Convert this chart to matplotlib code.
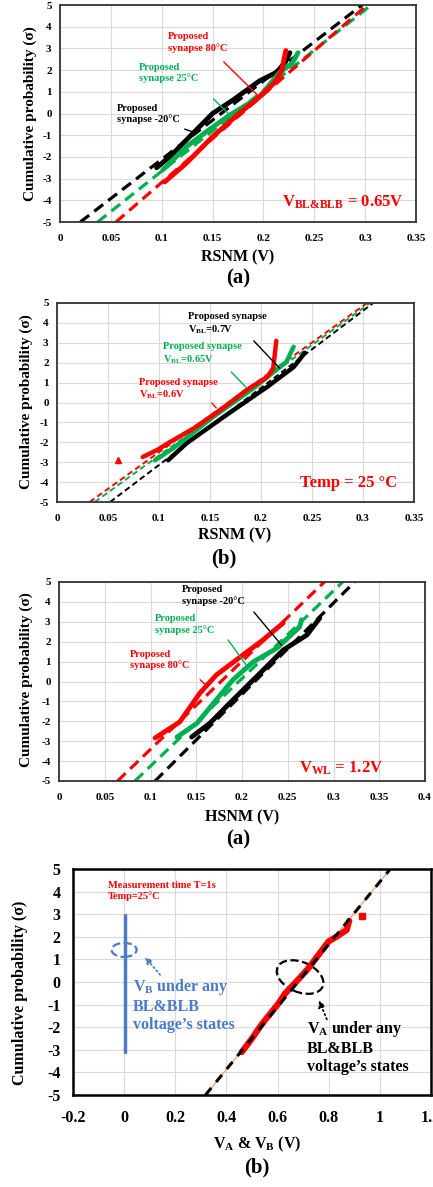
import numpy as np
import matplotlib
matplotlib.use("Agg")
import matplotlib.pyplot as plt
import matplotlib.transforms as mtrans
from matplotlib.patches import Ellipse
from matplotlib.mathtext import MathTextParser

plt.rcParams['font.family'] = ['Liberation Serif', 'DejaVu Serif']
plt.rcParams['font.weight'] = 'bold'
plt.rcParams['mathtext.fontset'] = 'custom'
plt.rcParams['mathtext.rm'] = 'Liberation Serif:bold'
plt.rcParams['mathtext.it'] = 'Liberation Serif:bold'
plt.rcParams['mathtext.bf'] = 'Liberation Serif:bold'
plt.rcParams['axes.unicode_minus'] = False

RED = '#ff0000'
GREEN = '#00b050'
BLACK = '#000000'
BLUE = '#4a7cc7'
PEACH = '#f4b183'

# ---- panel 1: RSNM vs temperature (V_BL&BLB = 0.65V) ----
rsnmT_black_x = [0.095, 0.11, 0.131, 0.15, 0.17, 0.196, 0.213, 0.222, 0.226]
rsnmT_black_y = [-2.5, -1.9, -0.9, 0.0, 0.62, 1.5, 1.9, 2.4, 2.8]
rsnmT_green_x = [0.101, 0.124, 0.145, 0.167, 0.196, 0.216, 0.228, 0.234]
rsnmT_green_y = [-2.6, -1.54, -0.8, -0.07, 0.76, 1.9, 2.3, 2.8]
rsnmT_red_x = [0.103, 0.124, 0.15, 0.176, 0.196, 0.212, 0.218, 0.222]
rsnmT_red_y = [-3.15, -2.3, -1.07, 0.0, 0.76, 1.47, 2.0, 2.9]
rsnmT_fit_x = {'black': [0.02, 0.297], 'green': [0.037, 0.306], 'red': [0.055, 0.302]}
fit_y = [-5, 5]

# ---- panel 2: RSNM vs V_BL (Temp = 25C) ----
rsnmV_red_x = [0.084, 0.098, 0.111, 0.134, 0.16, 0.186, 0.206, 0.212, 0.215]
rsnmV_red_y = [-2.74, -2.39, -1.98, -1.3, -0.38, 0.63, 1.28, 1.73, 3.1]
rsnmV_red_outlier = (0.06, -2.9)
rsnmV_green_x = [0.096, 0.114, 0.153, 0.193, 0.225, 0.232]
rsnmV_green_y = [-2.9, -2.3, -0.73, 0.73, 2.05, 2.8]
rsnmV_black_x = [0.109, 0.127, 0.166, 0.206, 0.232, 0.243]
rsnmV_black_y = [-2.9, -2.05, -0.63, 0.78, 1.78, 2.5]
rsnmV_fit_x = {'red': [0.032, 0.304], 'green': [0.037, 0.307], 'black': [0.052, 0.31]}

# ---- panel 3: HSNM vs temperature (V_WL = 1.2V) ----
hsnm_red_x = [0.105, 0.132, 0.154, 0.172, 0.198, 0.223, 0.245]
hsnm_red_y = [-2.84, -2.03, -0.58, 0.33, 1.23, 2.09, 2.94]
hsnm_green_x = [0.129, 0.151, 0.169, 0.19, 0.212, 0.238, 0.263, 0.265]
hsnm_green_y = [-2.79, -2.09, -1.08, 0.08, 0.98, 1.67, 2.74, 3.1]
hsnm_black_x = [0.145, 0.165, 0.19, 0.22, 0.245, 0.271, 0.285]
hsnm_black_y = [-2.79, -2.09, -0.93, 0.43, 1.58, 2.34, 3.19]
hsnm_fit_x = {'red': [0.064, 0.29], 'green': [0.083, 0.31], 'black': [0.105, 0.323]}

# ---- panel 4: V_A & V_B ----
va_x = [0.46, 0.5, 0.53, 0.55, 0.6, 0.63, 0.68, 0.72, 0.76, 0.8, 0.83, 0.87, 0.88]
va_y = [-3.1, -2.5, -2.0, -1.7, -1.0, -0.5, 0.1, 0.6, 1.2, 1.8, 2.0, 2.3, 2.7]
va_outlier = (0.93, 2.9)
va_fit_x = [0.318, 1.041]
vb_x = [0.003, 0.003]
vb_y = [-3.1, 2.95]

W, H = 433, 1187
fig = plt.figure(figsize=(W / 100, H / 100), dpi=100)


def mathOk(s):
    try:
        MathTextParser('agg').parse(s, 100)
        return True
    except Exception:
        return False


blbLabel = r'$V_{BL&BLB}$ = 0.65V'
if not mathOk(r'$V_{BL&BLB}$'):
    blbLabel = r'$V_{BL}$' + '&' + r'$_{BLB}$ = 0.65V'


def axRect(left, top, right, bottom):
    return [left / W, 1 - bottom / H, (right - left) / W, (bottom - top) / H]


def setupAxes(ax, xmin, xmax, xstep, tickSize, xpad, ypad):
    ax.set_xlim(xmin, xmax)
    ax.set_ylim(-5, 5)
    xt = np.arange(xmin, xmax + xstep / 2, xstep)
    ax.set_xticks(xt)
    ax.set_xticklabels(['{:g}'.format(round(v, 2)) for v in xt])
    ax.set_yticks(range(-5, 6))
    ax.tick_params(axis='x', labelsize=tickSize, length=0, pad=xpad)
    ax.tick_params(axis='y', labelsize=tickSize, length=0, pad=ypad)
    for lab in ax.get_xticklabels() + ax.get_yticklabels():
        lab.set_fontweight('bold')
    ax.grid(True, color='#d9d9d9', lw=0.8)
    ax.set_axisbelow(True)
    for s in ax.spines.values():
        s.set_linewidth(1.3)
        s.set_color('#333333')


def note(ax, txt, xy, color, size):
    ax.text(xy[0], xy[1], txt, color=color, fontsize=size, fontweight='bold',
            ha='left', va='top', linespacing=1.25)


def pointer(ax, p0, p1, color, lw=1.0):
    ax.annotate('', xy=p1, xytext=p0,
                arrowprops=dict(arrowstyle='-', color=color, lw=lw))


def band(ax, x, y, color, lw=3.5):
    ax.plot(x, y, color=color, lw=lw, solid_capstyle='round', solid_joinstyle='round')


# ---------------- panel 1 ----------------
ax1 = fig.add_axes(axRect(60, 5, 416, 222))
setupAxes(ax1, 0, 0.35, 0.05, 8, 8.5, 6)
for c, col in [('black', BLACK), ('green', GREEN), ('red', RED)]:
    ax1.plot(rsnmT_fit_x[c], fit_y, color=col, lw=2.3, dashes=(3.5, 2))
band(ax1, rsnmT_black_x, rsnmT_black_y, BLACK)
band(ax1, rsnmT_green_x, rsnmT_green_y, GREEN)
band(ax1, rsnmT_red_x, rsnmT_red_y, RED)
note(ax1, 'Proposed\nsynapse 80°C', (0.106, 3.75), RED, 7.5)
pointer(ax1, (0.159, 2.47), (0.196, 0.76), RED)
note(ax1, 'Proposed\nsynapse 25°C', (0.078, 2.35), GREEN, 7.5)
pointer(ax1, (0.149, 0.76), (0.167, -0.07), GREEN)
note(ax1, 'Proposed\nsynapse -20°C', (0.056, 0.45), BLACK, 7.5)
pointer(ax1, (0.12, -0.68), (0.134, -0.9), BLACK)
ax1.text(0.338, -4.1, blbLabel, color=RED, fontsize=12,
         fontweight='bold', ha='right', va='center')

# ---------------- panel 2 ----------------
ax2 = fig.add_axes(axRect(57, 303, 414, 502))
setupAxes(ax2, 0, 0.35, 0.05, 8, 9, 6)
for c, col in [('red', RED), ('green', GREEN), ('black', BLACK)]:
    ax2.plot(rsnmV_fit_x[c], fit_y, color=col, lw=1.4, dashes=(3, 1.8))
band(ax2, rsnmV_black_x, rsnmV_black_y, BLACK, 3.2)
band(ax2, rsnmV_green_x, rsnmV_green_y, GREEN, 3.2)
band(ax2, rsnmV_red_x, rsnmV_red_y, RED, 3.2)
ax2.plot(*rsnmV_red_outlier, marker='^', color=RED, ms=4)
note(ax2, 'Proposed synapse\n$V_{BL}$=0.7V', (0.128, 4.55), BLACK, 7.5)
pointer(ax2, (0.191, 3.2), (0.22, 1.63), BLACK)
note(ax2, 'Proposed synapse\n$V_{BL}$=0.65V', (0.104, 3.05), GREEN, 7.5)
pointer(ax2, (0.169, 1.63), (0.187, 0.68), GREEN)
note(ax2, 'Proposed synapse\n$V_{BL}$=0.6V', (0.08, 1.25), RED, 7.5)
pointer(ax2, (0.15, 0.08), (0.158, -0.38), RED)
ax2.text(0.333, -4.05, 'Temp = 25 °C', color=RED, fontsize=12,
         fontweight='bold', ha='right', va='center')

# ---------------- panel 3 ----------------
ax3 = fig.add_axes(axRect(59, 582, 425, 781))
setupAxes(ax3, 0, 0.4, 0.05, 8, 9, 6)
for c, col in [('red', RED), ('green', GREEN), ('black', BLACK)]:
    ax3.plot(hsnm_fit_x[c], fit_y, color=col, lw=2.3, dashes=(3.5, 2))
band(ax3, hsnm_black_x, hsnm_black_y, BLACK)
band(ax3, hsnm_green_x, hsnm_green_y, GREEN)
band(ax3, hsnm_red_x, hsnm_red_y, RED)
note(ax3, 'Proposed\nsynapse -20°C', (0.134, 4.85), BLACK, 7.5)
pointer(ax3, (0.211, 3.6), (0.245, 1.73), BLACK)
note(ax3, 'Proposed\nsynapse 25°C', (0.105, 3.4), GREEN, 7.5)
pointer(ax3, (0.183, 2.2), (0.207, 0.68), GREEN)
note(ax3, 'Proposed\nsynapse 80°C', (0.078, 1.6), RED, 7.5)
pointer(ax3, (0.152, 0.18), (0.163, -0.28), RED)
ax3.text(0.354, -4.35, r'$V_{WL}$ = 1.2V', color=RED, fontsize=12,
         fontweight='bold', ha='right', va='center')

# ---------------- panel 4 ----------------
ax4 = fig.add_axes(axRect(73, 869, 431, 1095))
setupAxes(ax4, -0.2, 1.2, 0.2, 11.5, 11, 9)
for s in ax4.spines.values():
    s.set_linewidth(1.8)
    s.set_color('black')
ax4.plot(va_fit_x, fit_y, color=PEACH, lw=1.2)
band(ax4, va_x, va_y, RED, 4.5)
ax4.plot(*va_outlier, marker='s', color=RED, ms=4)
ax4.plot(va_fit_x, fit_y, color=BLACK, lw=2.2, dashes=(3, 2.5))
band(ax4, vb_x, vb_y, BLUE, 2.5)
# ellipses drawn in inch units around a data-space centre
ax4.add_patch(Ellipse((0, 0), 0.25, 0.14, fill=False, ec=BLUE, lw=1.6, ls='--',
                      transform=fig.dpi_scale_trans
                      + mtrans.ScaledTranslation(0.0, 1.42, ax4.transData)))
ax4.add_patch(Ellipse((0, 0), 0.49, 0.30, angle=-23, fill=False, ec=BLACK, lw=1.6,
                      ls='--', transform=fig.dpi_scale_trans
                      + mtrans.ScaledTranslation(0.688, 0.22, ax4.transData)))
ax4.annotate('', xy=(0.074, 1.2), xytext=(0.148, 0.22),
             arrowprops=dict(arrowstyle='-|>', color=BLUE, lw=1.2, ls=':'))
ax4.annotate('', xy=(0.758, -0.7), xytext=(0.797, -1.77),
             arrowprops=dict(arrowstyle='-|>', color=BLACK, lw=1.2, ls=':'))
ax4.text(-0.065, 4.45, 'Measurement time T=1s\nTemp=25°C', color=RED, fontsize=7.5,
         fontweight='bold', ha='left', va='top', linespacing=1.1)
ax4.text(0.035, 0.2, '$V_B$ under any\nBL&BLB\nvoltage’s states', color=BLUE,
         fontsize=11.5, fontweight='bold', ha='left', va='top', linespacing=1.15)
ax4.text(0.715, -1.65, '$V_A$ under any\nBL&BLB\nvoltage’s states', color=BLACK,
         fontsize=11.5, fontweight='bold', ha='left', va='top', linespacing=1.15)


# ---------------- labels ----------------
def figText(x, y, txt, size, rot=0):
    fig.text(x / W, 1 - y / H, txt, fontsize=size, fontweight='bold',
             ha='center', va='center', rotation=rot)


figText(238, 257, 'RSNM (V)', 11.5)
figText(238, 278, '(a)', 15)
figText(30, 114, 'Cumulative probability (σ)', 11, 90)
figText(235, 535, 'RSNM (V)', 11.5)
figText(224, 558, '(b)', 15)
figText(26, 402, 'Cumulative probability (σ)', 11, 90)
figText(242, 817, 'HSNM (V)', 11.5)
figText(238, 839, '(a)', 15)
figText(26, 680, 'Cumulative probability (σ)', 11, 90)
figText(257, 1144, '$V_A$ & $V_B$ (V)', 11.5)
figText(257, 1167, '(b)', 15)
figText(20, 993, 'Cumulative probability (σ)', 11.5, 90)

fig.savefig('out.png', dpi=100)
